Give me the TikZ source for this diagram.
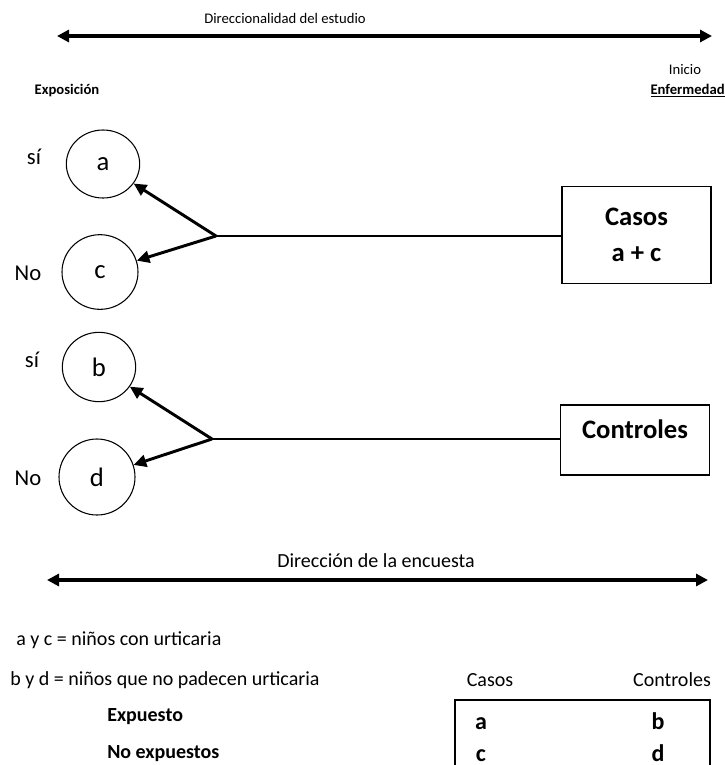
\documentclass[tikz,border=0pt]{standalone}
\usepackage{fontspec}
\setmainfont{Carlito}
\usetikzlibrary{arrows.meta,shapes.geometric}

\begin{document}
\begin{tikzpicture}[x=0.75pt,y=-0.75pt,
        txt/.style={inner sep=0pt,font=\fontsize{11}{13}\selectfont},
        big/.style={inner sep=0pt,font=\fontsize{15}{18}\selectfont},
        celda/.style={inner sep=0pt,anchor=base,font=\bfseries\fontsize{18}{20}\selectfont},
        circ/.style={draw,ellipse,line width=0.8pt,inner sep=0pt,font=\fontsize{20}{22}\selectfont},
        grupo/.style={draw,line width=1.1pt,align=center,minimum width=111.75pt,font=\bfseries\fontsize{20}{27}\selectfont},
        flecha/.style={line width=2.2pt,-{Triangle[length=9.5pt,width=9pt]}},
        eje/.style={line width=2.4pt,{Triangle[length=9pt,width=9pt]}-{Triangle[length=9pt,width=9pt]}},
        conector/.style={line width=1.1pt}]
        \useasboundingbox (0,0) rectangle (725,765);

        % Direction of the study
        \node[txt] (dir1) at (285,18) {Direccionalidad del estudio};
        \coordinate (i1) at (57,36);
        \coordinate (f1) at (712,36);
        \draw[eje] (i1) -- (f1);
        \node[txt,font=\bfseries\fontsize{11}{13}\selectfont] (expo) at (67,91) {Exposición};
        \node[txt] (inicio) at (685,69) {Inicio};
        \node[txt,anchor=east,font=\bfseries\fontsize{11}{13}\selectfont] (enf) at (725,91) {\underline{Enfermedad}};

        % Exposure circles
        \node[circ,minimum width=55pt,minimum height=51pt] (a) at (103,164) {a};
        \node[circ,minimum width=57pt,minimum height=56pt] (c) at (100,272) {c};
        \node[circ,minimum width=55pt,minimum height=52pt] (b) at (99,367) {b};
        \node[circ,minimum width=57pt,minimum height=57pt] (d) at (97,477) {d};
        \node[font=\fontsize{17}{19}\selectfont] (si1) at (34,157) {sí};
        \node[font=\fontsize{17}{19}\selectfont] (no1) at (28,273) {No};
        \node[font=\fontsize{17}{19}\selectfont] (si2) at (32,360) {sí};
        \node[font=\fontsize{17}{19}\selectfont] (no2) at (28,478) {No};

        % Groups
        \node[grupo,minimum height=73pt] (casos) at (636.5,235) {Casos\\a + c};
        \node[grupo,minimum height=52.5pt,text depth=16pt] (ctrl) at (635,440) {Controles};

        % Branches
        \coordinate (j1) at (216,236);
        \coordinate (j2) at (212,439);
        \draw[conector] (j1) -- (j1 -| casos.west);
        \draw[conector] (j2) -- (j2 -| ctrl.west);
        \draw[flecha] (j1) -- (a);
        \draw[flecha] (j1) -- (c);
        \draw[flecha] (j2) -- (b);
        \draw[flecha] (j2) -- (d);

        % Direction of the survey
        \node[big] (dir2) at (376,561) {Dirección de la encuesta};
        \coordinate (i2) at (47,580);
        \coordinate (f2) at (708,580);
        \draw[eje] (i2) -- (f2);

        % Legend
        \node[big,anchor=west] (leyac) at (16,640) {a y c = niños con urticaria};
        \node[big,anchor=west] (leybd) at (10,680) {b y d = niños que no padecen urticaria};
        \node[big,anchor=west,font=\bfseries\fontsize{15}{18}\selectfont] (expu) at (107,717) {Expuesto};
        \node[big,anchor=west,font=\bfseries\fontsize{15}{18}\selectfont] (noexpu) at (107,754) {No expuestos};

        % Table
        \node[big] (tcasos) at (490,680) {Casos};
        \node[big] (tctrl) at (672,680) {Controles};
        \coordinate (t1) at (455,766);
        \coordinate (t2) at (455,700);
        \coordinate (t3) at (710,700);
        \coordinate (t4) at (710,766);
        \draw[conector] (t1) -- (t2) -- (t3) -- (t4);
        \node[celda] (ta) at (481,729) {a};
        \node[celda] (tb) at (658,729) {b};
        \node[celda] (tc) at (481,761) {c};
        \node[celda] (td) at (658,761) {d};
\end{tikzpicture}
\end{document}
